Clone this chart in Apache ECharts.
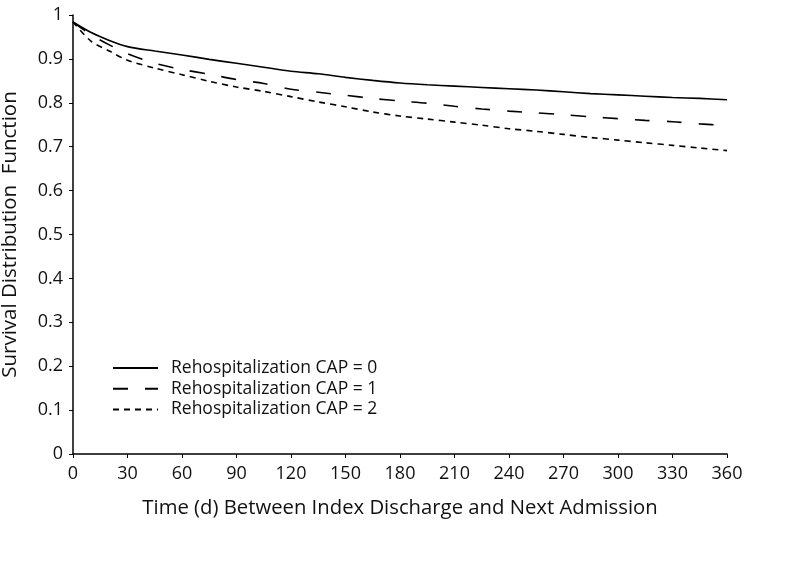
<!DOCTYPE html>
<html>
<head>
<meta charset="utf-8">
<script src="https://cdn.jsdelivr.net/npm/echarts@6/dist/echarts.min.js"></script>
<style>html,body{margin:0;padding:0;background:#fff;}#c{width:789px;height:568px;}</style>
</head>
<body>
<div id="c"></div>
<script>
const days = [0,10,20,30,45,60,75,90,105,120,135,150,165,180,195,210,225,240,255,270,285,300,315,330,345,360];
const cap0 = [0.984,0.960,0.942,0.928,0.918,0.909,0.899,0.890,0.881,0.872,0.866,0.858,0.851,0.845,0.841,0.838,0.835,0.832,0.829,0.825,0.821,0.818,0.815,0.812,0.810,0.807];
const cap1 = [0.984,0.955,0.932,0.912,0.890,0.876,0.865,0.853,0.844,0.831,0.824,0.817,0.810,0.804,0.799,0.792,0.786,0.781,0.777,0.773,0.768,0.764,0.760,0.757,0.752,0.748];
const cap2 = [0.984,0.940,0.918,0.897,0.879,0.864,0.849,0.836,0.826,0.814,0.802,0.791,0.779,0.770,0.763,0.756,0.749,0.741,0.735,0.728,0.721,0.715,0.709,0.703,0.697,0.691];
const seriesNames = ['Rehospitalization CAP = 0','Rehospitalization CAP = 1','Rehospitalization CAP = 2'];
const xTicks = [0,30,60,90,120,150,180,210,240,270,300,330,360];
const yTicks = [0,0.1,0.2,0.3,0.4,0.5,0.6,0.7,0.8,0.9,1];

const font = 'Open Sans';
const pair = (xs, ys) => xs.map((x, i) => [x, ys[i]]);
const chart = echarts.init(document.getElementById('c'));
const lineStyles = [
  {color:'#000', width:1.6, type:'solid'},
  {color:'#000', width:1.6, type:[15,17]},
  {color:'#000', width:1.6, type:[6,5]}
];
chart.setOption({
  animation:false,
  backgroundColor:'#fff',
  grid:{left:73, right:62, top:15, bottom:114, containLabel:false, outerBoundsMode:'none'},
  legend:{
    orient:'vertical', left:112, top:359, padding:0, itemWidth:45, itemHeight:14, itemGap:2.7,
    itemStyle:{opacity:0},
    textStyle:{fontFamily:font, fontSize:17.5, color:'#111', lineHeight:18, padding:[0,0,0,8]},
    data:seriesNames
  },
  xAxis:{
    type:'value', min:0, max:360, interval:30,
    name:'Time (d) Between Index Discharge and Next Admission',
    nameLocation:'middle', nameGap:44,
    nameTextStyle:{fontFamily:font, fontSize:20.3, color:'#111'},
    axisLine:{lineStyle:{color:'#000', width:1.5}},
    axisTick:{show:true, length:4, lineStyle:{color:'#000'}},
    axisLabel:{fontFamily:font, fontSize:18, color:'#111', margin:11,
      formatter:v=>xTicks.includes(v)?String(v):''},
    splitLine:{show:false}
  },
  yAxis:{
    type:'value', min:0, max:1, interval:0.1,
    name:'Survival Distribution  Function',
    nameLocation:'middle', nameGap:52,
    nameTextStyle:{fontFamily:font, fontSize:20.5, color:'#111'},
    axisLine:{show:true, lineStyle:{color:'#000', width:1.5}},
    axisTick:{show:true, length:4, lineStyle:{color:'#000'}},
    axisLabel:{fontFamily:font, fontSize:18, color:'#111', margin:10,
      formatter:v=>{const r=Math.round(v*10)/10; return yTicks.includes(r)?String(r):'';}},
    splitLine:{show:false}
  },
  series:[cap0,cap1,cap2].map((d,i)=>({
    name:seriesNames[i], type:'line', data:pair(days,d), smooth:0.3,
    showSymbol:false, symbol:'none', lineStyle:lineStyles[i], itemStyle:{color:'#000'}
  }))
});
</script>
</body>
</html>
